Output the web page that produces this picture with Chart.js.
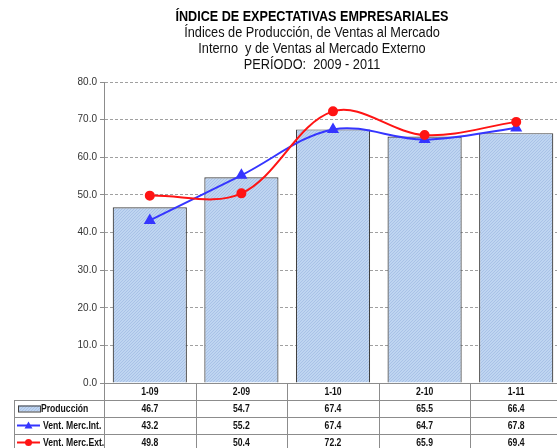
<!DOCTYPE html>
<html>
<head>
<meta charset="utf-8">
<script src="https://cdn.jsdelivr.net/npm/chart.js@4"></script>
<style>
  html, body { margin: 0; padding: 0; background: #fff; overflow: hidden; }
  #contenedor { width: 624px; height: 448px; }
</style>
</head>
<body>
<div id="contenedor"><canvas id="grafico"></canvas></div>
<script>
// Datos del índice por semestre
const periodos = ["1-09", "2-09", "1-10", "2-10", "1-11"];
const produccion = [46.7, 54.7, 67.4, 65.5, 66.4];
const ventMercInt = [43.2, 55.2, 67.4, 64.7, 67.8];
const ventMercExt = [49.8, 50.4, 72.2, 65.9, 69.4];
const ticksY = [0, 10, 20, 30, 40, 50, 60, 70, 80];

const titulo = "ÍNDICE DE EXPECTATIVAS EMPRESARIALES";
const subtitulo = [
    "Índices de Producción, de Ventas al Mercado",
    "Interno  y de Ventas al Mercado Externo",
    "PERÍODO:  2009 - 2011"
];

const fuente = "'Liberation Sans Narrow', 'Arial Narrow', 'Liberation Sans', Arial, sans-serif";
const azul = "#3535ff";
const rojo = "#ff1414";

const ctx = document.getElementById("grafico").getContext("2d");

// trama punteada de las barras
function tramaBarra() {
    const c = document.createElement("canvas");
    c.width = 3;
    c.height = 3;
    const g = c.getContext("2d");
    g.fillStyle = "#bfd5f1";
    g.fillRect(0, 0, 3, 3);
    g.fillStyle = "#a9c2e7";
    g.fillRect(0, 0, 1, 1);
    g.fillRect(2, 1, 1, 1);
    g.fillRect(1, 2, 1, 1);
    return ctx.createPattern(c, "repeat");
}
const relleno = tramaBarra();

// texto comprimido en horizontal (letra estrecha)
function textoEstrecho(c, texto, x, y, factor) {
    c.save();
    c.translate(x, y);
    c.scale(factor, 1);
    c.fillText(texto, 0, 0);
    c.restore();
}

// títulos centrados sobre el gráfico
const titulos = {
    id: "titulos",
    afterDraw(chart) {
        const c = chart.ctx;
        const cx = 312;
        c.save();
        c.textAlign = "center";
        c.textBaseline = "middle";
        c.fillStyle = "#000";
        c.font = "bold 14px " + fuente;
        textoEstrecho(c, titulo, cx, 17, 0.9);
        c.fillStyle = "#111";
        c.font = "14px " + fuente;
        subtitulo.forEach((linea, i) => {
            textoEstrecho(c, linea, cx, 33.5 + i * 16, 0.91);
        });
        c.restore();
    }
};

// tabla de datos debajo del eje x
const tablaDatos = {
    id: "tablaDatos",
    afterDraw(chart) {
        const c = chart.ctx;
        const area = chart.chartArea;
        const x = chart.scales.x;
        const filaH = 17;
        const top = area.bottom;
        const colW = (area.right - area.left) / periodos.length;
        const izq = 14;
        const fondo = chart.height + 5;

        c.save();
        c.strokeStyle = "#8c8c8c";
        c.lineWidth = 1;
        c.beginPath();
        for (let r = 1; r <= 3; r++) {
            const y = Math.round(top + r * filaH) + 0.5;
            c.moveTo(izq, y);
            c.lineTo(area.right, y);
        }
        for (let i = 0; i <= periodos.length; i++) {
            const xx = Math.round(area.left + i * colW) + 0.5;
            c.moveTo(xx, top);
            c.lineTo(xx, fondo);
        }
        c.moveTo(izq + 0.5, top + filaH);
        c.lineTo(izq + 0.5, fondo);
        c.stroke();

        c.fillStyle = "#111";
        c.font = "bold 10.5px " + fuente;
        c.textAlign = "center";
        c.textBaseline = "middle";
        const filas = [null, produccion, ventMercInt, ventMercExt];
        periodos.forEach((p, i) => {
            const cx = x.getPixelForValue(i);
            textoEstrecho(c, p, cx, top + filaH * 0.5 + 0.5, 0.82);
            for (let r = 1; r <= 3; r++) {
                textoEstrecho(c, filas[r][i].toFixed(1), cx, top + filaH * (r + 0.5) + 0.5, 0.82);
            }
        });

        // leyenda en la primera columna
        const y1 = top + filaH * 1.5;
        const y2 = top + filaH * 2.5;
        const y3 = top + filaH * 3.5;
        c.fillStyle = relleno;
        c.fillRect(18, y1 - 3, 22, 6);
        c.strokeStyle = "#404040";
        c.strokeRect(18.5, y1 - 2.5, 22, 6);

        c.lineWidth = 2;
        c.strokeStyle = azul;
        c.beginPath();
        c.moveTo(17, y2);
        c.lineTo(40, y2);
        c.stroke();
        c.fillStyle = azul;
        c.beginPath();
        c.moveTo(28.5, y2 - 4);
        c.lineTo(32.5, y2 + 3);
        c.lineTo(24.5, y2 + 3);
        c.closePath();
        c.fill();

        c.strokeStyle = rojo;
        c.beginPath();
        c.moveTo(17, y3);
        c.lineTo(40, y3);
        c.stroke();
        c.fillStyle = rojo;
        c.beginPath();
        c.arc(28.5, y3, 3.5, 0, Math.PI * 2);
        c.fill();

        c.fillStyle = "#111";
        c.textAlign = "left";
        textoEstrecho(c, "Producción", 41, y1 + 0.5, 0.82);
        textoEstrecho(c, "Vent. Merc.Int.", 43, y2 + 0.5, 0.82);
        textoEstrecho(c, "Vent. Merc.Ext.", 43, y3 + 0.5, 0.82);
        c.restore();
    }
};

const data = {
    labels: periodos,
    datasets: [
        {
            type: "line",
            label: "Vent. Merc.Int.",
            data: ventMercInt,
            borderColor: azul,
            backgroundColor: azul,
            borderWidth: 2,
            pointStyle: "triangle",
            pointRadius: 5,
            tension: 0.35,
            order: 1
        },
        {
            type: "line",
            label: "Vent. Merc.Ext.",
            data: ventMercExt,
            borderColor: rojo,
            backgroundColor: rojo,
            borderWidth: 2,
            pointStyle: "circle",
            pointRadius: 4,
            tension: 0.35,
            order: 0
        },
        {
            type: "bar",
            label: "Producción",
            data: produccion,
            backgroundColor: relleno,
            borderColor: "#404040",
            borderWidth: 1.2,
            barPercentage: 0.81,
            categoryPercentage: 1,
            order: 2
        }
    ]
};

const config = {
    type: "bar",
    data: data,
    plugins: [titulos, tablaDatos],
    options: {
        responsive: true,
        maintainAspectRatio: false,
        animation: false,
        layout: {
            padding: { left: 0, right: 62, top: 82, bottom: 0 }
        },
        plugins: {
            legend: { display: false },
            tooltip: { enabled: false }
        },
        scales: {
            x: {
                ticks: { display: false },
                grid: { display: false },
                border: { color: "#8c8c8c" },
                afterFit: (scale) => { scale.height = 65; }
            },
            y: {
                min: 0,
                max: 80,
                afterBuildTicks: (scale) => {
                    scale.ticks = ticksY.map(v => ({ value: v }));
                },
                ticks: {
                    color: "#333",
                    font: { family: fuente, size: 10 },
                    padding: 3,
                    callback: (value) => Number(value).toFixed(1)
                },
                grid: {
                    color: "#a0a0a0",
                    tickColor: "#8c8c8c",
                    tickLength: 4,
                    tickBorderDash: []
                },
                border: { color: "#8c8c8c", dash: [3, 2] },
                afterFit: (scale) => { scale.width = 104; }
            }
        }
    }
};

new Chart(ctx, config);
</script>
</body>
</html>
